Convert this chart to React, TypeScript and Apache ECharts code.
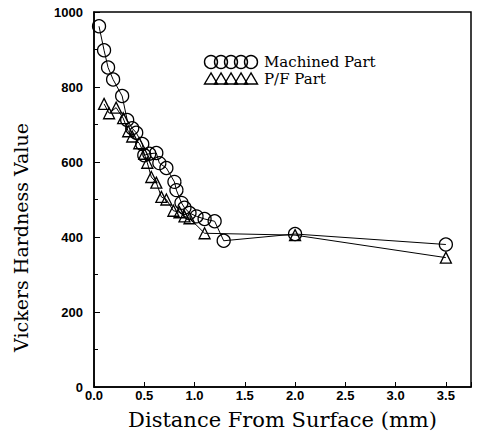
import React, { useEffect, useRef } from "react";
import * as echarts from "echarts";

const machinedX = [0.05, 0.1, 0.14, 0.19, 0.28, 0.33, 0.38, 0.42, 0.48, 0.5, 0.55, 0.62, 0.65, 0.72, 0.8, 0.82, 0.87, 0.9, 0.95, 1.02, 1.1, 1.2, 1.29, 2.0, 3.5];
const machinedY = [962, 898, 852, 820, 776, 712, 690, 678, 648, 618, 622, 624, 597, 584, 547, 525, 491, 478, 464, 455, 448, 442, 390, 408, 380];
const pfX = [0.1, 0.15, 0.22, 0.29, 0.34, 0.38, 0.45, 0.5, 0.53, 0.57, 0.62, 0.67, 0.72, 0.79, 0.85, 0.9, 0.95, 1.1, 2.0, 3.5];
const pfY = [755, 730, 745, 717, 682, 668, 650, 622, 598, 560, 545, 507, 500, 470, 466, 455, 450, 410, 405, 345];

const xTicks = [0, 0.5, 1.0, 1.5, 2.0, 2.5, 3.0, 3.5];
const seriesNames = ["Machined Part", "P/F Part"];

const serif = "DejaVu Serif";
const sans = "Liberation Sans";

export default function App() {
  const ref = useRef<HTMLDivElement>(null);
  useEffect(() => {
    const chart = echarts.init(ref.current!, null, { renderer: "svg" });
    const m = machinedX.map((x, i) => [x, machinedY[i]]);
    const p = pfX.map((x, i) => [x, pfY[i]]);
    const circleXs = [211, 221, 231, 241, 251];
    const legendGraphics: any[] = [];
    circleXs.forEach((cx) => {
      legendGraphics.push({
        type: "circle",
        shape: { cx, cy: 62, r: 6.5 },
        style: { fill: "none", stroke: "#000", lineWidth: 1.4 },
      });
    });
    circleXs.forEach((cx) => {
      legendGraphics.push({
        type: "polygon",
        shape: { points: [[cx, 73], [cx - 6.5, 84], [cx + 6.5, 84]] },
        style: { fill: "none", stroke: "#000", lineWidth: 1.4 },
      });
    });
    legendGraphics.push({
      type: "text",
      x: 264,
      y: 62,
      style: { text: seriesNames[0], font: `15px "${serif}"`, lineHeight: 15, fill: "#000", verticalAlign: "middle" },
    });
    legendGraphics.push({
      type: "text",
      x: 264,
      y: 79,
      style: { text: seriesNames[1], font: `15px "${serif}"`, lineHeight: 15, fill: "#000", verticalAlign: "middle" },
    });

    chart.setOption({
      animation: false,
      backgroundColor: "#fff",
      grid: {
        left: 94,
        right: 9,
        top: 12,
        bottom: 53,
        show: true,
        borderColor: "#000",
        borderWidth: 1.5,
        backgroundColor: "transparent",
      },
      xAxis: {
        type: "value",
        min: 0,
        max: 3.75,
        interval: 0.5,
        name: "Distance From Surface (mm)",
        nameLocation: "middle",
        nameGap: 22,
        nameTextStyle: { fontFamily: serif, fontSize: 21, color: "#000", verticalAlign: "top" },
        axisLine: { lineStyle: { color: "#000", width: 1.5 } },
        axisTick: { inside: true, length: 5, lineStyle: { color: "#000" } },
        splitLine: { show: false },
        axisLabel: {
          color: "#000",
          fontFamily: sans,
          fontSize: 13,
          fontWeight: "bold",
          margin: 2,
          formatter: (v: number) => (xTicks.some((t) => Math.abs(t - v) < 1e-6) ? v.toFixed(1) : ""),
        },
      },
      yAxis: {
        type: "value",
        min: 0,
        max: 1000,
        interval: 200,
        name: "Vickers Hardness Value",
        nameLocation: "middle",
        nameGap: 64,
        nameRotate: 90,
        nameTextStyle: { fontFamily: serif, fontSize: 19, color: "#000", padding: [0, 76, 0, 0] },
        axisLine: { show: true, lineStyle: { color: "#000", width: 1.5 } },
        axisTick: { inside: true, length: 6, lineStyle: { color: "#000" } },
        minorTick: { show: true, splitNumber: 2, length: 4, lineStyle: { color: "#000" } },
        splitLine: { show: false },
        axisLabel: {
          color: "#000",
          fontFamily: sans,
          fontSize: 13,
          fontWeight: "bold",
          margin: 11,
          formatter: (v: number) => String(v),
        },
      },
      series: [
        {
          name: seriesNames[0],
          type: "line",
          data: m,
          symbol: "circle",
          symbolSize: 13,
          lineStyle: { color: "#000", width: 1 },
          itemStyle: { color: "rgba(255,255,255,0)", borderColor: "#000", borderWidth: 1.3 },
        },
        {
          name: seriesNames[1],
          type: "line",
          data: p,
          symbol: "triangle",
          symbolSize: 11,
          lineStyle: { color: "#000", width: 1 },
          itemStyle: { color: "rgba(255,255,255,0)", borderColor: "#000", borderWidth: 1.3 },
        },
      ],
      graphic: legendGraphics,
    });
    return () => chart.dispose();
  }, []);
  return <div ref={ref} style={{ width: 480, height: 440, margin: -8 }} />;
}
